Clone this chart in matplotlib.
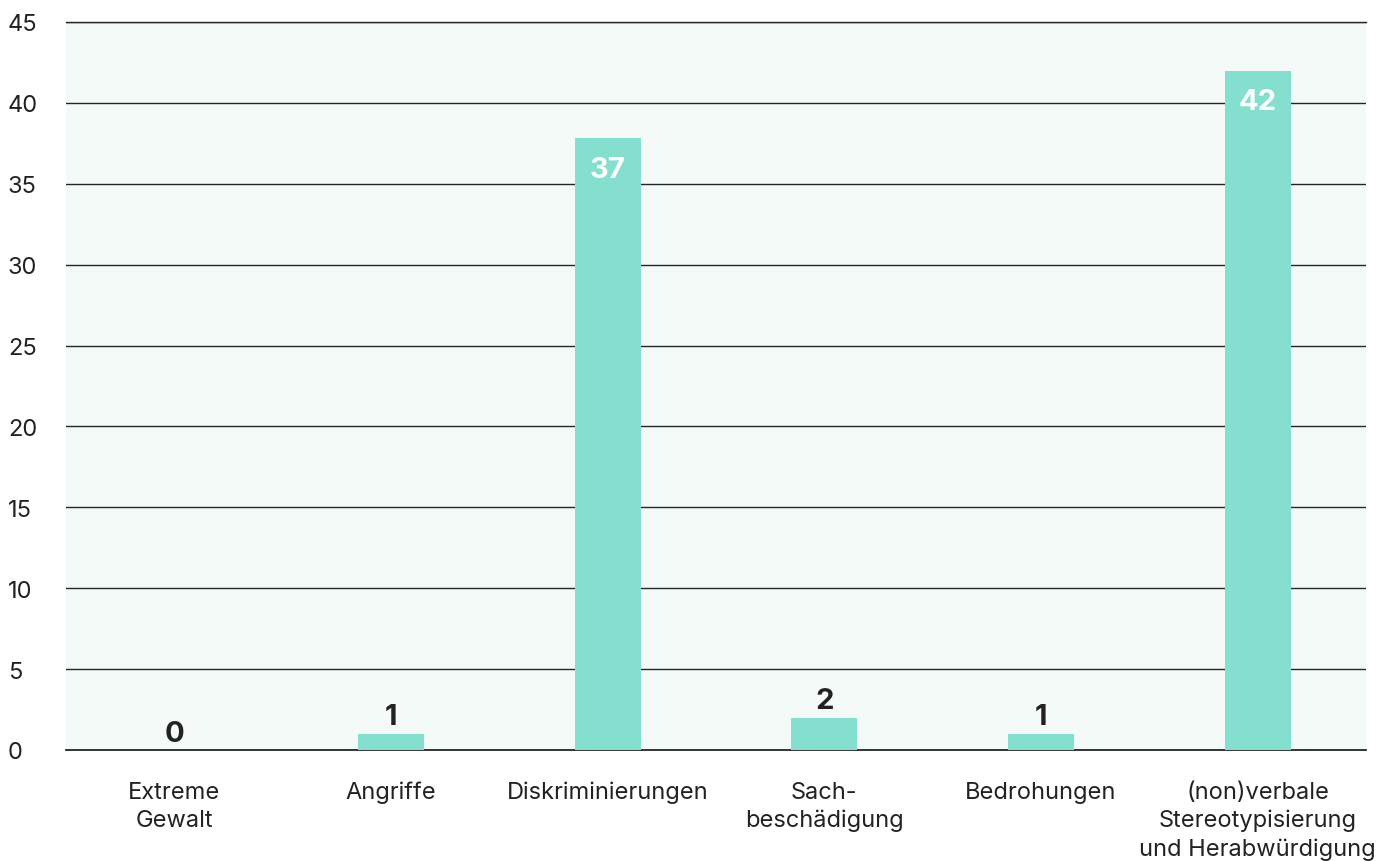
import numpy as np
import matplotlib.pyplot as plt

plt.rcParams['font.family'] = ['Inter', 'DejaVu Sans']

categories = ['Extreme\nGewalt', 'Angriffe', 'Diskriminierungen', 'Sach-\nbeschädigung',
              'Bedrohungen', '(non)verbale\nStereotypisierung\nund Herabwürdigung']
bar_heights = [0, 1, 37.8, 2, 1, 42]   # as drawn in the picture
value_labels = ['0', '1', '37', '2', '1', '42']
yticks = [0, 5, 10, 15, 20, 25, 30, 35, 40, 45]

bar_color = '#84DFCF'
text_color = '#222222'
grid_color = '#262626'

fig = plt.figure(figsize=(13.96, 8.62), dpi=100)
ax = fig.add_axes([66/1396, 1 - 751/862, 1300/1396, 728/862])
ax.set_facecolor('#F4FAF8')

x = np.arange(len(categories))
ax.bar(x, bar_heights, width=0.305, color=bar_color, zorder=3)

for xi, h, lab in zip(x, bar_heights, value_labels):
    if h > 10:
        ax.annotate(lab, (xi, h), xytext=(0, -22), textcoords='offset points',
                    ha='center', va='center', fontsize=21, fontweight='bold', color='white', zorder=4)
    else:
        ax.annotate(lab, (xi, h), xytext=(0, 2.5), textcoords='offset points',
                    ha='center', va='bottom', fontsize=21, fontweight='bold', color=text_color, zorder=4)

ax.set_xlim(-0.5, len(categories) - 0.5)
ax.set_ylim(0, 45)
ax.set_yticks(yticks)
ax.yaxis.grid(True, color=grid_color, linewidth=1.0, zorder=1)
ax.set_axisbelow(True)
# baseline and top line are on the axes edge, draw them unclipped
ax.axhline(0, color=grid_color, linewidth=1.3, zorder=2, clip_on=False)
ax.axhline(45, color=grid_color, linewidth=1.0, zorder=2, clip_on=False)
ax.set_xticks(x)
ax.set_xticklabels(categories, fontsize=17, color=text_color, linespacing=1.35)
ax.tick_params(axis='x', length=0, pad=22)
ax.tick_params(axis='y', length=0, pad=41.8, labelsize=17, labelcolor=text_color)
for t in ax.get_yticklabels():
    t.set_horizontalalignment('left')
for s in ax.spines.values():
    s.set_visible(False)

fig.savefig('out.png', dpi=100)
